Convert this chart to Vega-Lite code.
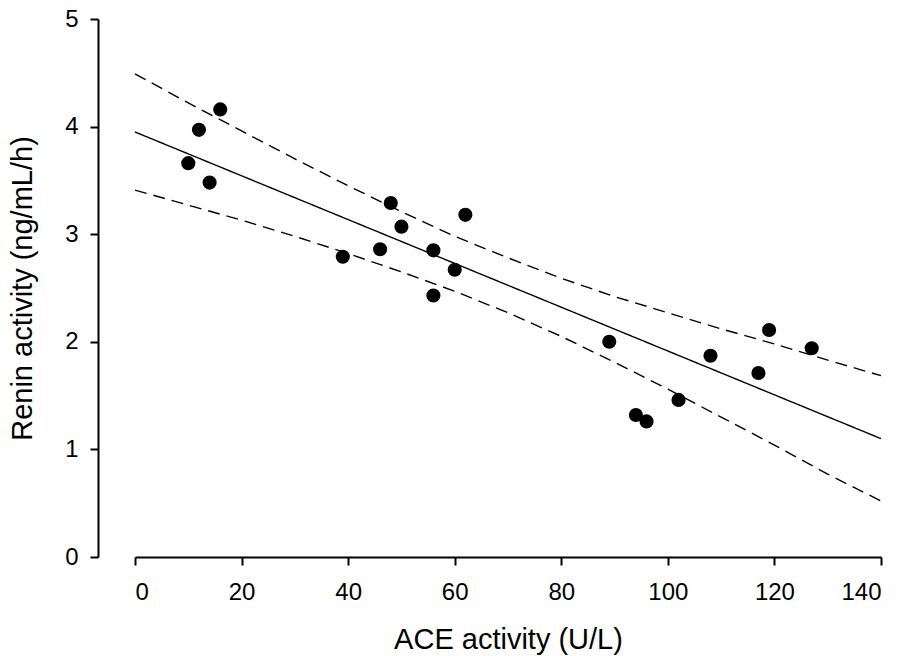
{
  "$schema": "https://vega.github.io/schema/vega-lite/v6.json",
  "width": 746,
  "height": 538,
  "autosize": {"type": "none"},
  "padding": {"left": 135, "top": 19, "right": 27, "bottom": 99},
  "background": "white",
  "config": {
    "view": {"stroke": null},
    "font": "Liberation Sans",
    "axis": {
      "grid": false,
      "domainColor": "black",
      "domainWidth": 2,
      "tickColor": "black",
      "tickWidth": 2,
      "tickSize": 8,
      "labelFont": "Liberation Sans",
      "labelFontSize": 24,
      "labelColor": "black",
      "titleFont": "Liberation Sans",
      "titleFontSize": 29,
      "titleFontWeight": "normal",
      "titleColor": "black"
    }
  },
  "datasets": {
    "points": [
      {"ace": 10, "renin": 3.66},
      {"ace": 12, "renin": 3.97},
      {"ace": 16, "renin": 4.16},
      {"ace": 14, "renin": 3.48},
      {"ace": 39, "renin": 2.79},
      {"ace": 46, "renin": 2.86},
      {"ace": 48, "renin": 3.29},
      {"ace": 50, "renin": 3.07},
      {"ace": 56, "renin": 2.85},
      {"ace": 56, "renin": 2.43},
      {"ace": 60, "renin": 2.67},
      {"ace": 62, "renin": 3.18},
      {"ace": 89, "renin": 2.0},
      {"ace": 94, "renin": 1.32},
      {"ace": 96, "renin": 1.26},
      {"ace": 102, "renin": 1.46},
      {"ace": 108, "renin": 1.87},
      {"ace": 117, "renin": 1.71},
      {"ace": 119, "renin": 2.11},
      {"ace": 127, "renin": 1.94}
    ],
    "lines": [
      {"ace": 0, "renin": 3.95, "series": "fit"},
      {"ace": 140, "renin": 1.1, "series": "fit"},
      {"ace": 0, "renin": 4.49, "series": "upper"},
      {"ace": 10, "renin": 4.22, "series": "upper"},
      {"ace": 20, "renin": 3.96, "series": "upper"},
      {"ace": 30, "renin": 3.7, "series": "upper"},
      {"ace": 40, "renin": 3.45, "series": "upper"},
      {"ace": 50, "renin": 3.21, "series": "upper"},
      {"ace": 60, "renin": 2.98, "series": "upper"},
      {"ace": 70, "renin": 2.78, "series": "upper"},
      {"ace": 80, "renin": 2.59, "series": "upper"},
      {"ace": 90, "renin": 2.42, "series": "upper"},
      {"ace": 100, "renin": 2.27, "series": "upper"},
      {"ace": 110, "renin": 2.12, "series": "upper"},
      {"ace": 120, "renin": 1.98, "series": "upper"},
      {"ace": 130, "renin": 1.83, "series": "upper"},
      {"ace": 140, "renin": 1.685, "series": "upper"},
      {"ace": 0, "renin": 3.41, "series": "lower"},
      {"ace": 10, "renin": 3.27, "series": "lower"},
      {"ace": 20, "renin": 3.13, "series": "lower"},
      {"ace": 30, "renin": 2.98, "series": "lower"},
      {"ace": 40, "renin": 2.82, "series": "lower"},
      {"ace": 50, "renin": 2.65, "series": "lower"},
      {"ace": 60, "renin": 2.47, "series": "lower"},
      {"ace": 70, "renin": 2.27, "series": "lower"},
      {"ace": 80, "renin": 2.05, "series": "lower"},
      {"ace": 90, "renin": 1.81, "series": "lower"},
      {"ace": 100, "renin": 1.56, "series": "lower"},
      {"ace": 110, "renin": 1.3, "series": "lower"},
      {"ace": 120, "renin": 1.04, "series": "lower"},
      {"ace": 130, "renin": 0.77, "series": "lower"},
      {"ace": 140, "renin": 0.52, "series": "lower"}
    ]
  },
  "layer": [
    {
      "data": {"name": "lines"},
      "mark": {"type": "line", "color": "black", "strokeWidth": 1.4},
      "encoding": {
        "x": {
          "field": "ace", "type": "quantitative",
          "scale": {"domain": [0, 140], "nice": false, "zero": false},
          "axis": {"values": [0, 20, 40, 60, 80, 100, 120, 140], "format": "d", "title": "ACE activity (U/L)", "labelPadding": 15, "titlePadding": 21}
        },
        "y": {
          "field": "renin", "type": "quantitative",
          "scale": {"domain": [0, 5], "nice": false},
          "axis": {"values": [0, 1, 2, 3, 4, 5], "format": "d", "title": "Renin activity (ng/mL/h)", "offset": 37, "labelPadding": 12, "titlePadding": 27}
        },
        "detail": {"field": "series"},
        "strokeDash": {
          "field": "series", "type": "nominal",
          "scale": {"domain": ["fit", "upper", "lower"], "range": [[1, 0], [12, 7], [12, 7]]},
          "legend": null
        }
      }
    },
    {
      "data": {"name": "points"},
      "mark": {"type": "circle", "color": "black", "opacity": 1, "size": 200},
      "encoding": {
        "x": {"field": "ace", "type": "quantitative"},
        "y": {"field": "renin", "type": "quantitative"}
      }
    }
  ]
}
